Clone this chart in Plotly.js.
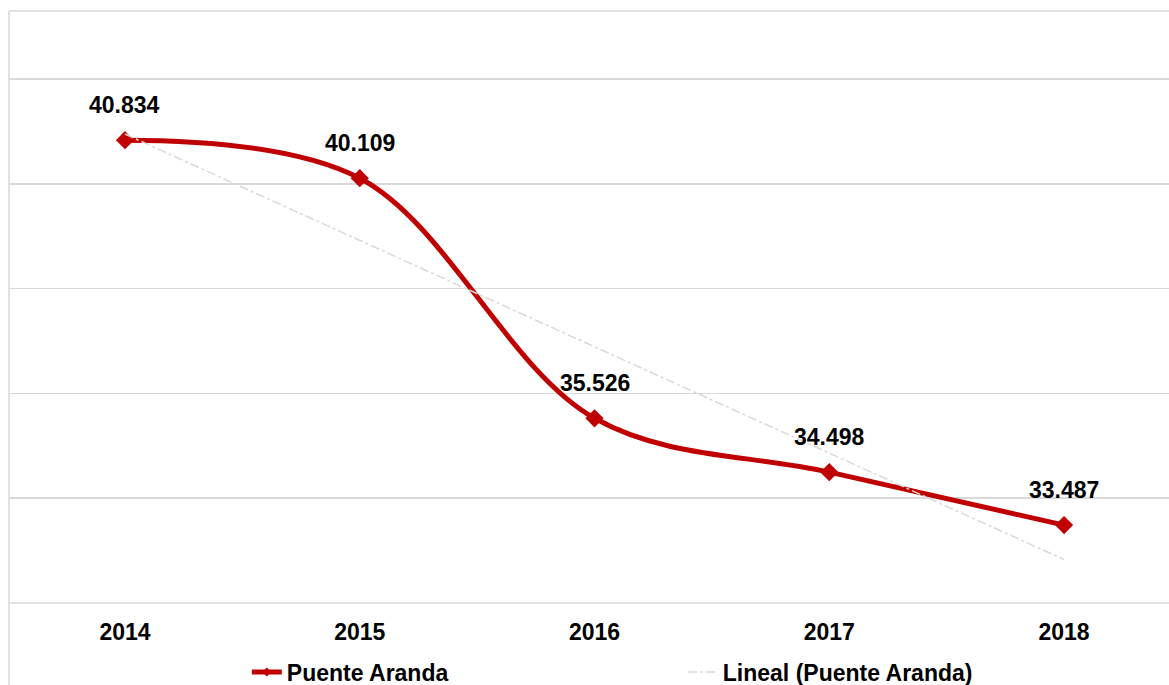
<!DOCTYPE html>
<html>
<head>
<meta charset="utf-8">
<script src="https://cdn.plot.ly/plotly-3.0.1.min.js"></script>
<style>html,body{margin:0;padding:0;background:#fff;}#chart{width:1169px;height:685px;}</style>
</head>
<body>
<div id="chart"></div>
<script>
const years = ['2014', '2015', '2016', '2017', '2018'];
const values = [40.834, 40.109, 35.526, 34.498, 33.487];
const valueLabels = ['40.834', '40.109', '35.526', '34.498', '33.487'];
const seriesName = 'Puente Aranda';
const trendName = 'Lineal (Puente Aranda)';

// linear regression (Excel "Lineal" trendline)
const n = values.length;
const xs = values.map((_, i) => i);
const mx = xs.reduce((a, b) => a + b, 0) / n;
const my = values.reduce((a, b) => a + b, 0) / n;
let sxy = 0, sxx = 0;
xs.forEach((x, i) => { sxy += (x - mx) * (values[i] - my); sxx += (x - mx) * (x - mx); });
const slope = sxy / sxx;
const intercept = my - slope * mx;
const trend = xs.map(x => intercept + slope * x);

const FONT = 'Liberation Sans, Arial, sans-serif';
const RED = '#C00000';
const GRID = '#d9d9d9';

const traces = [
  {
    x: years, y: values, type: 'scatter', mode: 'lines+markers', name: seriesName,
    line: {color: RED, width: 5, shape: 'spline', smoothing: 1},
    marker: {symbol: 'diamond', size: 14, color: RED},
    cliponaxis: false, showlegend: false
  },
  {
    x: years, y: trend, type: 'scatter', mode: 'lines', name: trendName,
    line: {color: GRID, width: 1.5, dash: 'dashdot'}, showlegend: false
  },
  // legend-only entries (no data)
  {
    x: [null], y: [null], type: 'scatter', mode: 'lines+markers', name: seriesName,
    line: {color: RED, width: 5}, marker: {symbol: 'diamond', size: 7, color: RED}
  },
  {
    x: [null], y: [null], type: 'scatter', mode: 'lines', name: trendName,
    line: {color: GRID, width: 1.5, dash: 'dashdot'}
  }
];

const annotations = xs.map(i => ({
  x: i, y: values[i], xref: 'x', yref: 'y', text: valueLabels[i],
  showarrow: false, yshift: 35,
  font: {family: FONT, size: 23, color: '#000', weight: 700}
}));

const layout = {
  width: 1169, height: 685,
  margin: {l: 9, r: 0, t: 11, b: 82},
  paper_bgcolor: '#fff', plot_bgcolor: '#fff',
  showlegend: true,
  legend: {
    orientation: 'h', x: 0.205, xanchor: 'left', xref: 'paper',
    y: 0.019, yanchor: 'middle', yref: 'container',
    font: {family: FONT, size: 23, color: '#000', weight: 700},
    entrywidth: 391, entrywidthmode: 'pixels', bgcolor: 'rgba(0,0,0,0)'
  },
  xaxis: {
    type: 'category', range: [-0.494, 4.447], showgrid: false, zeroline: false,
    showline: false, ticks: '',
    tickfont: {family: FONT, size: 23, color: '#000', weight: 700},
    ticklabelstandoff: 13
  },
  yaxis: {
    range: [32, 43.3], dtick: 2, tick0: 32, showticklabels: false, ticks: '',
    showgrid: true, gridcolor: GRID, gridwidth: 1.5, zeroline: false, showline: false
  },
  annotations: annotations,
  shapes: [
    {type: 'line', xref: 'paper', yref: 'paper', x0: 0, x1: 0, y0: -0.2, y1: 1, line: {color: GRID, width: 1.5}, layer: 'below'},
    {type: 'line', xref: 'paper', yref: 'paper', x0: 0, x1: 1.01, y0: 1, y1: 1, line: {color: GRID, width: 1.5}, layer: 'below'},
    {type: 'line', xref: 'paper', yref: 'paper', x0: 0, x1: 1.01, y0: 0, y1: 0, line: {color: GRID, width: 1.5}, layer: 'below'}
  ]
};

Plotly.newPlot('chart', traces, layout, {displayModeBar: false, staticPlot: true});
</script>
</body>
</html>
